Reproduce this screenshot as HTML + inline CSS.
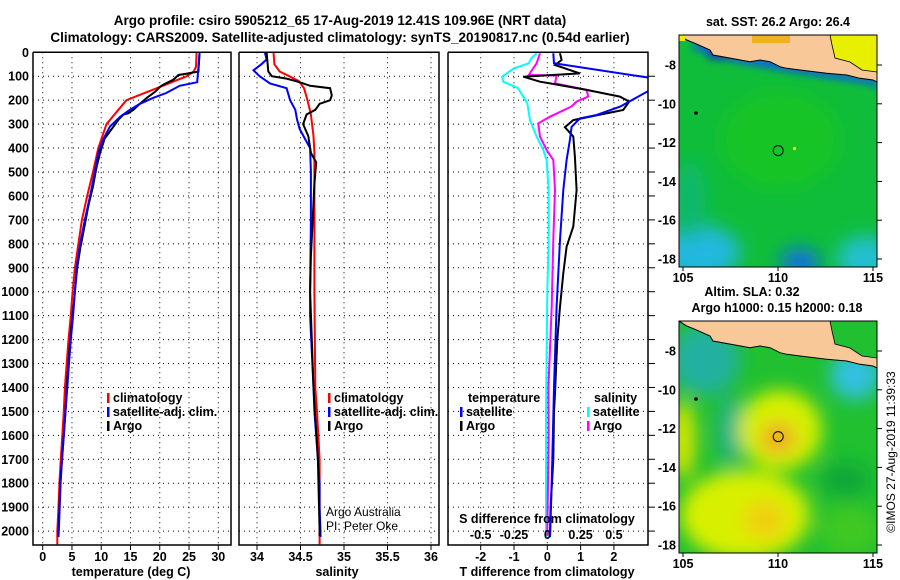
<!DOCTYPE html>
<html><head><meta charset="utf-8">
<style>
html,body{margin:0;padding:0;background:#fff;}
svg{display:block;font-family:"Liberation Sans",sans-serif;}
.b{font-weight:bold;font-size:12.5px;fill:#000;}
.t{font-weight:bold;font-size:13.5px;fill:#000;}
</style></head>
<body>
<svg id="c" width="900" height="580" viewBox="0 0 900 580" xmlns="http://www.w3.org/2000/svg">
<defs>
<clipPath id="cp1"><rect x="33" y="38" width="198" height="507"/></clipPath>
<clipPath id="cp2"><rect x="239" y="38" width="200" height="507"/></clipPath>
<clipPath id="cp3"><rect x="448" y="38" width="200" height="507"/></clipPath>
<clipPath id="cm1"><rect x="679" y="35" width="198" height="232"/></clipPath>
<clipPath id="cm2"><rect x="679" y="321" width="198" height="232"/></clipPath>
<filter id="bl" x="-50%" y="-50%" width="200%" height="200%"><feGaussianBlur stdDeviation="9"/></filter>
<filter id="bl2" x="-50%" y="-50%" width="200%" height="200%"><feGaussianBlur stdDeviation="4"/></filter>
</defs>
<text class="t" x="340" y="25" text-anchor="middle">Argo profile: csiro 5905212_65 17-Aug-2019 12.41S 109.96E (NRT data)</text>
<text class="t" x="340" y="42" text-anchor="middle">Climatology: CARS2009. Satellite-adjusted climatology: synTS_20190817.nc (0.54d earlier)</text>

<g>
<g clip-path="url(#cm1)">
<rect x="679" y="35" width="198" height="232" fill="#10bd3a"/>
<g filter="url(#bl)">
<ellipse cx="700" cy="252" rx="40" ry="26" fill="#20b8e0"/>
<ellipse cx="800" cy="262" rx="20" ry="14" fill="#1070e0"/>
<ellipse cx="865" cy="258" rx="28" ry="22" fill="#20c0d0"/>
<ellipse cx="690" cy="200" rx="15" ry="40" fill="#10b870"/>
<ellipse cx="780" cy="140" rx="60" ry="50" fill="#14c428"/>
</g>
<g filter="url(#bl2)">
<path d="M690,48 L735,62 L790,72 L870,84 L877,90 L877,78 L800,64 L735,52 L700,40 Z" fill="#1060e0"/>
<ellipse cx="720" cy="55" rx="14" ry="5" fill="#0a40c0"/>
</g>
<rect x="793" y="147" width="3" height="3" fill="#e0f000"/>
<path d="M679,35 L686.7,40 L695,43.3 L710,50 L713,55 L735,59 L750,61.7 L760,60 L770,61.7 L780,66.7 L786.7,68.3 L800,70 L826.7,73.3 L846.7,75 L860,78.3 L873,80 L877,82 L877,35 Z" fill="#f8c898" stroke="#000" stroke-width="1"/>
<rect x="752" y="35" width="38" height="8" fill="#f0b020"/>
<path d="M830,35 L877,35 L877,72 L862,70 L850,62 L835,58 L832,45 Z" fill="#e8f000" stroke="#000" stroke-width="0.8"/>
<rect x="679" y="35" width="6" height="6" fill="#e8f000"/>
<circle cx="696" cy="113" r="1.8" fill="#000"/>
<circle cx="778.2" cy="150.6" r="5" fill="none" stroke="#000" stroke-width="1"/>
</g>
<rect x="679" y="35" width="198" height="232" fill="none" stroke="#000" stroke-width="1"/>
</g>
<text class="b" x="778" y="26" text-anchor="middle">sat. SST: 26.2 Argo: 26.4</text>

<g>
<g clip-path="url(#cm2)">
<rect x="679" y="321" width="198" height="232" fill="#20c030"/>
<g filter="url(#bl)">
<ellipse cx="705" cy="360" rx="35" ry="35" fill="#20b0a0"/>
<ellipse cx="855" cy="375" rx="25" ry="25" fill="#30c0e0"/>
<ellipse cx="730" cy="430" rx="12" ry="35" fill="#20b090"/>
<ellipse cx="780" cy="430" rx="42" ry="40" fill="#d8f000"/>
<ellipse cx="778" cy="438" rx="18" ry="16" fill="#f0a820"/>
<ellipse cx="745" cy="515" rx="65" ry="45" fill="#d8f000"/>
<ellipse cx="765" cy="520" rx="22" ry="20" fill="#f0d010"/>
<ellipse cx="683" cy="440" rx="12" ry="40" fill="#e0e800"/>
<ellipse cx="845" cy="480" rx="25" ry="18" fill="#10a838"/>
<ellipse cx="850" cy="530" rx="30" ry="25" fill="#40c820"/>
</g>
<path d="M679,321 L686.7,326 L695,329.3 L710,336 L713,341 L735,345 L750,347.7 L760,346 L770,347.7 L780,352.7 L786.7,354.3 L800,356 L826.7,359.3 L846.7,361 L860,364.3 L873,366 L877,368 L877,321 Z" fill="#f8c898" stroke="#000" stroke-width="1"/>
<path d="M830,321 L877,321 L877,358 L862,356 L850,348 L835,344 L832,331 Z" fill="#20c030" stroke="#000" stroke-width="0.8"/>
<circle cx="696" cy="399" r="1.8" fill="#000"/>
<circle cx="778.2" cy="436.6" r="5" fill="none" stroke="#000" stroke-width="1"/>
</g>
<rect x="679" y="321" width="198" height="232" fill="none" stroke="#000" stroke-width="1"/>
</g>
<text class="b" x="752" y="296" text-anchor="middle">Altim. SLA: 0.32</text>
<text class="b" x="777" y="312" text-anchor="middle">Argo h1000: 0.15 h2000: 0.18</text>
<text x="895" y="452" transform="rotate(-90 895 452)" text-anchor="middle" font-size="12" fill="#000">©IMOS 27-Aug-2019 11:39:33</text>

<g id="plots"></g>
</svg>
<script>
const depthTicks=[0,100,200,300,400,500,600,700,800,900,1000,1100,1200,1300,1400,1500,1600,1700,1800,1900,2000];
const tempTicks=[0,5,10,15,20,25,30];
const salTicks=[34,34.5,35,35.5,36];
const salTickLabels=["34","34.5","35","35.5","36"];
const tdiffTicks=[-2,-1,0,1,2];
const sdiffTicks=[-0.5,-0.25,0,0.25,0.5];
const sdiffTickLabels=["-0.5","-0.25","0","0.25","0.5"];
const latTicks=[-8,-10,-12,-14,-16,-18];
const lonTicks=[105,110,115];

const tempClim=[[0,26.3],[60,26.2],[80,25.8],[100,24.6],[150,19.5],[200,14.3],[250,12.6],[300,10.9],[400,9.5],[500,8.6],[600,7.6],[700,6.7],[800,6.1],[900,5.5],[1000,5.1],[1100,4.8],[1200,4.4],[1300,4.1],[1400,3.8],[1500,3.6],[1600,3.35],[1700,3.1],[1800,2.85],[1900,2.7],[2000,2.5],[2055,2.5]];
const tempSat=[[0,26.8],[125,26.4],[140,23.4],[170,21.1],[190,18.9],[215,16.6],[240,14.9],[270,13.2],[310,11.5],[360,10.4],[420,9.5],[500,8.9],[600,8.1],[700,7.2],[800,6.4],[900,5.8],[1000,5.5],[1100,5.2],[1200,4.8],[1300,4.5],[1400,4.2],[1500,3.9],[1600,3.6],[1700,3.3],[1800,3.05],[1900,2.9],[2000,2.75],[2025,2.7]];
const tempArgo=[[0,26.8],[80,26.6],[88,24.9],[95,23.2],[115,22.3],[135,20.6],[145,20.0],[165,19.2],[190,17.8],[215,16.6],[240,15.5],[255,14.6],[260,13.8],[280,13.0],[320,11.8],[360,10.6],[420,9.8],[480,9.2],[560,8.6],[640,7.8],[720,7.2],[820,6.4],[900,5.9],[1000,5.5],[1100,5.1],[1200,4.7],[1300,4.4],[1400,4.1],[1500,3.9],[1600,3.6],[1700,3.3],[1800,3.0],[1900,2.85],[2000,2.7],[2020,2.7]];

const salClim=[[0,34.19],[50,34.2],[80,34.26],[100,34.37],[120,34.48],[150,34.54],[200,34.58],[260,34.62],[350,34.65],[420,34.66],[500,34.66],[800,34.66],[1000,34.66],[1400,34.67],[1500,34.69],[1700,34.72],[1800,34.72],[2000,34.72],[2055,34.72]];
const salSat=[[0,34.09],[30,34.11],[50,34.05],[75,33.96],[100,34.03],[130,34.15],[150,34.34],[200,34.38],[240,34.44],[280,34.46],[320,34.49],[360,34.55],[400,34.61],[500,34.62],[700,34.62],[1000,34.61],[1100,34.61],[1400,34.65],[1500,34.66],[1600,34.68],[1700,34.7],[1800,34.72],[1900,34.72],[2000,34.73],[2025,34.73]];
const salArgo=[[0,34.11],[80,34.13],[100,34.17],[110,34.34],[125,34.49],[140,34.61],[150,34.84],[180,34.86],[200,34.84],[215,34.72],[240,34.67],[260,34.57],[300,34.53],[350,34.59],[420,34.62],[460,34.68],[550,34.66],[700,34.64],[850,34.62],[1000,34.61],[1400,34.65],[1700,34.7],[2000,34.72],[2020,34.72]];

const tdiffSat=[[4,0.18],[46,0.2],[105,3.0],[130,3.5],[164,3.0],[227,2.19],[262,1.48],[276,0.98],[311,0.73],[366,0.68],[450,0.58],[575,0.48],[784,0.38],[923,0.33],[1063,0.28],[1400,0.2],[1700,0.15],[1900,0.11],[2025,0.08]];
const tdiffArgo=[[4,0.38],[32,0.43],[53,0.23],[88,0.98],[102,-0.72],[123,-0.22],[130,0.08],[157,1.18],[185,2.18],[206,2.46],[241,2.28],[266,1.38],[283,0.78],[313,0.53],[352,0.78],[436,0.83],[575,0.88],[728,0.78],[812,0.58],[923,0.48],[1063,0.38],[1200,0.3],[1423,0.23],[1500,0.2],[1700,0.18],[1900,0.1],[2020,0.08]];
const sdiffSat=[[4,-0.08],[25,-0.12],[46,-0.14],[67,-0.25],[102,-0.34],[123,-0.33],[150,-0.22],[213,-0.15],[283,-0.13],[352,-0.08],[408,-0.03],[450,-0.005],[575,0.01],[800,0.01],[1000,0],[1500,-0.01],[2025,-0.01]];
const sdiffArgo=[[4,-0.055],[46,-0.08],[95,-0.14],[97,0.07],[130,0.058],[157,0.295],[185,0.308],[206,0.22],[227,0.18],[269,0.02],[297,-0.068],[352,-0.055],[408,-0.005],[450,0.045],[575,0.058],[784,0.045],[1063,0.033],[1400,0.008],[1600,0.01],[2020,0.0]];

const yD=d=>52.3+d*0.2394;
const xT=t=>42.7+t*5.853;
const xS=s=>257+(s-34)*87;
const xDT=v=>547.3+v*33.3;
const xDS=v=>547.3+v*133.2;
const yLat1=l=>65+(-8-l)*19.4;
const yLat2=l=>351+(-8-l)*19.4;
const xLon=l=>683+(l-105)*19.0;

const NS="http://www.w3.org/2000/svg";
const root=document.getElementById('plots');
function mk(tag,attrs,parent,txt){const e=document.createElementNS(NS,tag);for(const k in attrs)e.setAttribute(k,attrs[k]);if(txt!==undefined)e.textContent=txt;(parent||root).appendChild(e);return e;}

const panels=[{x0:33,x1:231,clip:'cp1',name:'temperature-panel'},{x0:239,x1:439,clip:'cp2',name:'salinity-panel'},{x0:448,x1:648,clip:'cp3',name:'difference-panel'}];
const yTop=52.3,yBot=545;
panels.forEach((p,i)=>{
  const g=mk('g',{});
  
  
  p.g=g;
  depthTicks.forEach(d=>{
    if(d===0)return;
    const l=mk('line',{x1:p.x0,x2:p.x1,y1:yD(d),y2:yD(d),stroke:'#000','stroke-width':1,'stroke-dasharray':'1 4'},g);
    
    
  });
});
function vgrid(p,xs){xs.forEach(x=>{const l=mk('line',{x1:x,x2:x,y1:yTop,y2:yBot,stroke:'#000','stroke-width':1,'stroke-dasharray':'1 4'},p.g);
  
  });}
vgrid(panels[0],tempTicks.map(xT));
vgrid(panels[1],salTicks.map(xS));
vgrid(panels[2],tdiffTicks.map(xDT));

function line(p,data,xf,color,name){
  const pts=data.map(d=>xf(d[1]).toFixed(1)+','+yD(d[0]).toFixed(1)).join(' ');
  const pl=mk('polyline',{points:pts,fill:'none',stroke:color,'stroke-width':2,'clip-path':'url(#'+p.clip+')'},p.g);
  
  
}
line(panels[0],tempClim,xT,'#ff0000','temp-climatology-line');
line(panels[0],tempArgo,xT,'#000000','temp-argo-line');
line(panels[0],tempSat,xT,'#0000ff','temp-satellite-line');
line(panels[1],salClim,xS,'#ff0000','salinity-climatology-line');
line(panels[1],salSat,xS,'#0000ff','salinity-satellite-line');
line(panels[1],salArgo,xS,'#000000','salinity-argo-line');
line(panels[2],sdiffSat,xDS,'#00ffff','sdiff-satellite-line');
line(panels[2],sdiffArgo,xDS,'#ff00ff','sdiff-argo-line');
line(panels[2],tdiffArgo,xDT,'#000000','tdiff-argo-line');
line(panels[2],tdiffSat,xDT,'#0000ff','tdiff-satellite-line');

panels.forEach(p=>{
  const f=mk('polyline',{points:`${p.x0},${yTop} ${p.x1},${yTop} ${p.x1},${yBot} ${p.x0},${yBot} ${p.x0},${yTop}`,fill:'none',stroke:'#000','stroke-width':1.5},p.g);
  
  
});

depthTicks.forEach(d=>{
  const t=mk('text',{x:29,y:yD(d)+4.5,'text-anchor':'end',class:'b'},root,String(d));
  
  
});
depthTicks.forEach(d=>{
  if(d===0)return;
  const l=mk('line',{x1:648,x2:655,y1:yD(d),y2:yD(d),stroke:'#000','stroke-width':1});
  
  
});
function xlabels(ticks,labels,xf,y,name){ticks.forEach((v,i)=>{
  const t=mk('text',{x:xf(v),y:y,'text-anchor':'middle',class:'b'},root,labels[i]);
  
  
  const l=mk('line',{x1:xf(v),x2:xf(v),y1:yBot,y2:yBot+5,stroke:'#000','stroke-width':1});
  
  
});}
xlabels(tempTicks,tempTicks.map(String),xT,561,'temperature-tick-label');
xlabels(salTicks,salTickLabels,xS,561,'salinity-tick-label');
xlabels(tdiffTicks,tdiffTicks.map(String),xDT,561,'tdiff-tick-label');
sdiffTicks.forEach((v,i)=>{
  const t=mk('text',{x:xDS(v),y:539,'text-anchor':'middle',class:'b'},root,sdiffTickLabels[i]);
  
  
});
[['temperature (deg C)',131,'temperature-axis-title'],['salinity',337,'salinity-axis-title'],['T difference from climatology',547,'tdiff-axis-title'],['S difference from climatology',547,'sdiff-axis-title']].forEach((a,i)=>{
  const t=mk('text',{x:a[1],y:i===3?523:576,'text-anchor':'middle',class:'b'},root,a[0]);
  
  
});

function legend(x,y,color,label,name){
  const r=mk('rect',{x:x,y:y-9,width:2.5,height:10,fill:color});
  
  
  const t=mk('text',{x:x+6,y:y,class:'b'},root,label);
  
  
}
legend(107,402,'#ff0000','climatology','legend-temp-climatology');
legend(107,416,'#0000ff','satellite-adj. clim.','legend-temp-satellite');
legend(107,430,'#000000','Argo','legend-temp-argo');
legend(328,402,'#ff0000','climatology','legend-sal-climatology');
legend(328,416,'#0000ff','satellite-adj. clim.','legend-sal-satellite');
legend(328,430,'#000000','Argo','legend-sal-argo');
(function(){const t=mk('text',{x:468,y:402,class:'b'},root,'temperature');


const s=mk('text',{x:594,y:402,class:'b'},root,'salinity');

})();
legend(460,416,'#0000ff','satellite','legend-tdiff-satellite');
legend(460,430,'#000000','Argo','legend-tdiff-argo');
legend(587,416,'#00ffff','satellite','legend-sdiff-satellite');
legend(587,430,'#ff00ff','Argo','legend-sdiff-argo');
(function(){const a=mk('text',{x:326,y:516,'font-size':12,fill:'#000'},root,'Argo Australia');


const b=mk('text',{x:326,y:530,'font-size':12,fill:'#000'},root,'PI: Peter Oke');

})();

[yLat1,yLat2].forEach((yf,mi)=>{
  latTicks.forEach(l=>{
    const t=mk('text',{x:676,y:yf(l)+4.5,'text-anchor':'end',class:'b'},root,String(l));
    
    
    const m=mk('line',{x1:877,x2:882,y1:yf(l),y2:yf(l),stroke:'#000','stroke-width':1});
    
    
  });
  const yb=mi===0?267:553;
  lonTicks.forEach(l=>{
    const t=mk('text',{x:xLon(l),y:yb+15,'text-anchor':'middle',class:'b'},root,String(l));
    
    
    const m=mk('line',{x1:xLon(l),x2:xLon(l),y1:yb,y2:yb+4,stroke:'#000','stroke-width':1});
    
    
  });
});
</script>
</body></html>
